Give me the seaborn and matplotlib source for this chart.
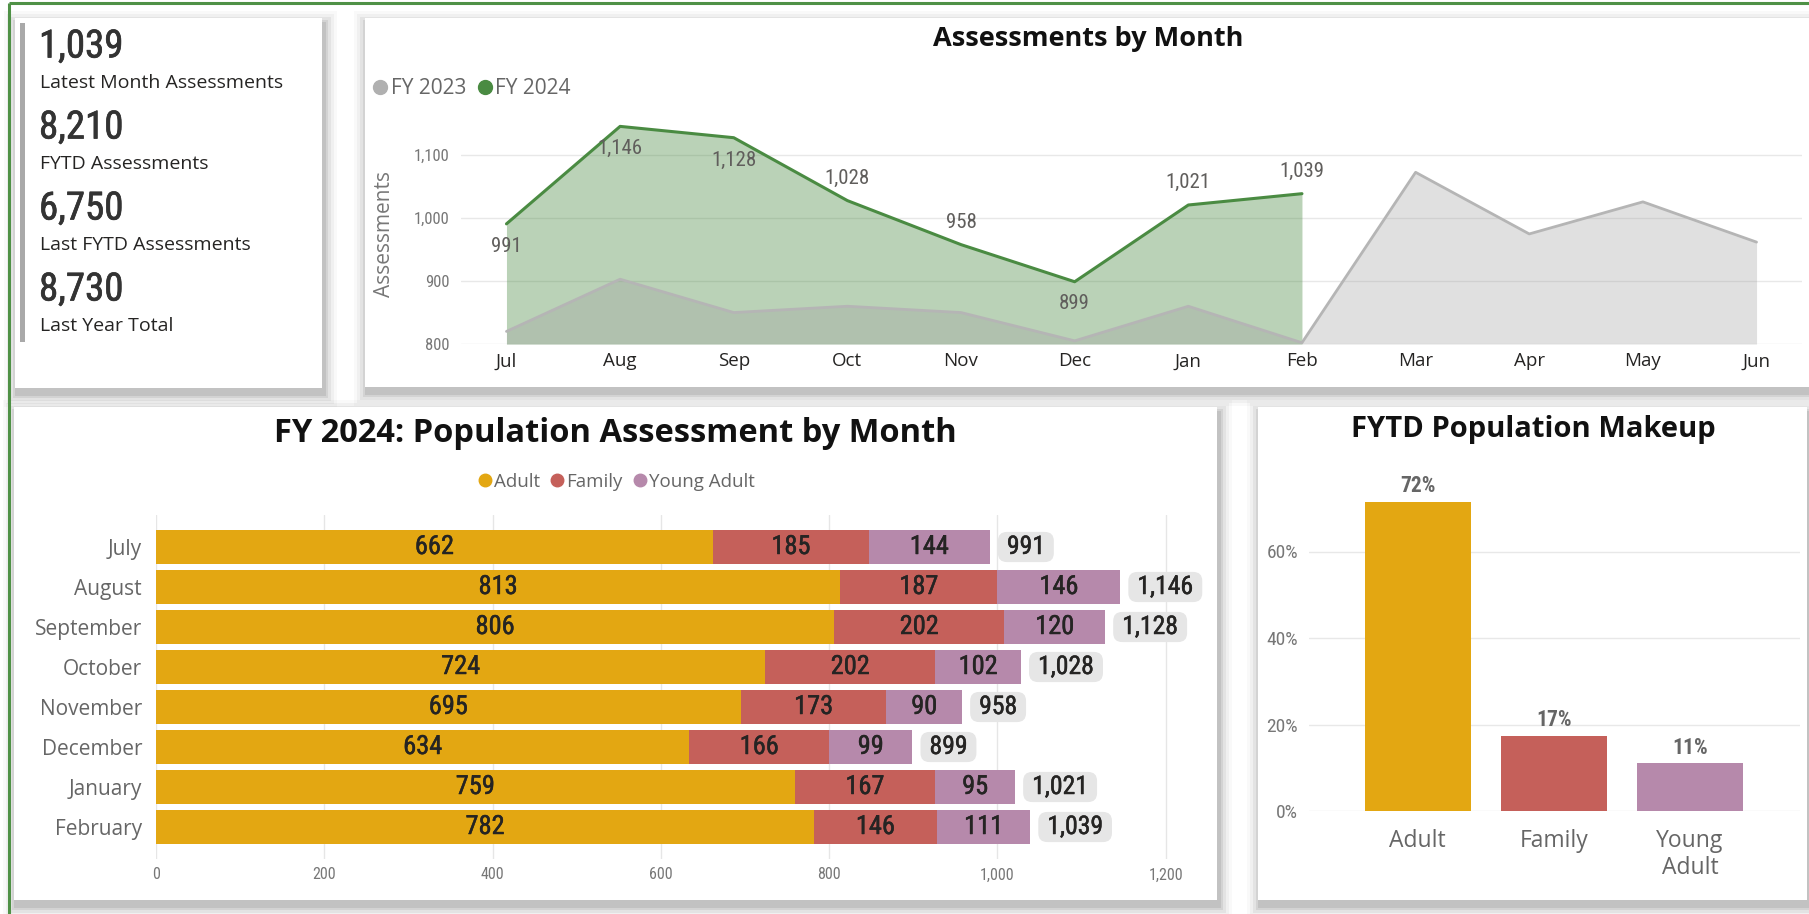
import matplotlib
matplotlib.use("Agg")
import matplotlib.pyplot as plt
import matplotlib.patheffects as pe
import seaborn as sns
import numpy as np
import pandas as pd
from matplotlib.patches import Rectangle
from matplotlib.lines import Line2D
from matplotlib import font_manager as fm

# ---------------- data ----------------
months_short = ["Jul", "Aug", "Sep", "Oct", "Nov", "Dec", "Jan", "Feb", "Mar", "Apr", "May", "Jun"]
fy2023 = [820, 903, 850, 860, 850, 805, 860, 802, 1073, 975, 1026, 962]
fy2024 = [991, 1146, 1128, 1028, 958, 899, 1021, 1039]
fy2024_label_side = ["below", "below", "below", "above", "above", "below", "above", "above"]

months_long = ["July", "August", "September", "October", "November", "December", "January", "February"]
adult = [662, 813, 806, 724, 695, 634, 759, 782]
family = [185, 187, 202, 202, 173, 166, 167, 146]
young_adult = [144, 146, 120, 102, 90, 99, 95, 111]

populations = ["Adult", "Family", "Young Adult"]
makeup_ticklabels = ["Adult", "Family", "Young\nAdult"]

kpi_values = ["1,039", "8,210", "6,750", "8,730"]
kpi_labels = ["Latest Month Assessments", "FYTD Assessments", "Last FYTD Assessments", "Last Year Total"]

# ---------------- style ----------------
sns.set_theme(style="white")
installed = {f.name for f in fm.fontManager.ttflist}
TXT = "Open Sans" if "Open Sans" in installed else "DejaVu Sans"
NUM = "Roboto Condensed" if "Roboto Condensed" in installed else ("Roboto" if "Roboto" in installed else "DejaVu Sans")
plt.rcParams["font.family"] = [TXT, "DejaVu Sans"]

GOLD, RED, PURPLE = "#E3A712", "#C5605A", "#B689AB"
GREEN, GREY = "#4A8B42", "#B5B5B5"

W, H = 1809, 914
fig = plt.figure(figsize=(W / 100, H / 100), dpi=100)
fig.patch.set_facecolor("white")

bg = fig.add_axes([0, 0, 1, 1], zorder=-10)
bg.set_xlim(0, W)
bg.set_ylim(H, 0)
bg.axis("off")


def rect(l, t, r, b):
    return [l / W, 1 - b / H, (r - l) / W, (b - t) / H]


def card(x0, y0, x1, y1):
    for k, a in [(13, 0.025), (10, 0.035), (7, 0.05), (4, 0.065), (2, 0.08)]:
        bg.add_patch(Rectangle((x0 - k + 2, y0 - k + 6), (x1 - x0) + 2 * k, (y1 - y0) + 2 * k,
                               color="black", alpha=a, lw=0))
    bg.add_patch(Rectangle((x0, y0), x1 - x0, y1 - y0, color="white", lw=0))


card(15, 18, 322, 388)
card(365, 18, 1812, 387)
card(14, 407, 1217, 900)
card(1258, 407, 1807, 900)

# green frame
bg.plot([9, 9], [3, H + 5], color="#4F9146", lw=2.2, solid_capstyle="butt")
bg.plot([9, W + 5], [3, 3], color="#4F9146", lw=2.2, solid_capstyle="butt")


def semibold(color, w=0.4):
    return [pe.withStroke(linewidth=w, foreground=color)]


# ---------------- KPI card ----------------
bg.add_patch(Rectangle((20, 23), 5, 319, color="#A9A9A9", lw=0))
for i, (v, lab) in enumerate(zip(kpi_values, kpi_labels)):
    y0 = 47 + i * 81
    bg.text(39, y0, v, fontsize=28, color="#333333", family=NUM, ha="left", va="center",
            path_effects=semibold("#333333", 0.5))
    bg.text(40, y0 + 36, lab, fontsize=14, color="#252423", ha="left", va="center")

# ---------------- line chart ----------------
ax1 = fig.add_axes(rect(461, 105, 1802, 344))
x_all = np.arange(len(months_short))
x24 = x_all[:len(fy2024)]
ax1.fill_between(x24, fy2024, 800, color=GREEN, alpha=0.38, lw=0)
ax1.fill_between(x_all, fy2023, 800, color="#9A9A9A", alpha=0.30, lw=0)
sns.lineplot(x=x_all, y=fy2023, color=GREY, lw=2, ax=ax1)
sns.lineplot(x=x24, y=fy2024, color=GREEN, lw=2.2, ax=ax1)
for xi, v, side in zip(x24, fy2024, fy2024_label_side):
    off = -16 if side == "below" else 16
    ax1.annotate(f"{v:,}", (xi, v), xytext=(0, off), textcoords="offset points",
                 ha="center", va="center", fontsize=15, color="#605E5C", family=NUM)
ax1.set_xlim(-0.4, 11.4)
ax1.set_ylim(800, 1180)
ax1.set_yticks([800, 900, 1000, 1100])
ax1.set_yticklabels([f"{t:,}" for t in [800, 900, 1000, 1100]], fontsize=12, color="#777777", family=NUM)
ax1.set_xticks(x_all)
ax1.set_xticklabels(months_short, fontsize=13.5, color="#252423")
ax1.grid(axis="y", color="#E8E8E8", lw=1)
ax1.set_axisbelow(True)
for s in ax1.spines.values():
    s.set_visible(False)
ax1.tick_params(length=0)
ax1.tick_params(axis="y", pad=8)
ax1.tick_params(axis="x", pad=6)
ax1.set_xlabel("")
ax1.set_ylabel("")
ax1.patch.set_alpha(0)
bg.text(384, 234, "Assessments", rotation=90, fontsize=15, color="#777777", ha="center", va="center")
bg.text(1088, 39, "Assessments by Month", fontsize=19.5, weight="bold", color="#111111", ha="center", va="center")
h1 = [Line2D([], [], marker="o", ls="", color="#B0B0B0", markersize=10),
      Line2D([], [], marker="o", ls="", color=GREEN, markersize=10)]
fig.legend(h1, ["FY 2023", "FY 2024"], loc="center left", bbox_to_anchor=(370 / W, 1 - 89 / H),
           ncol=2, frameon=False, handletextpad=0.0, columnspacing=0.4, handlelength=1.0,
           fontsize=15, labelcolor="#666666", borderaxespad=0, borderpad=0)

# ---------------- stacked bar chart ----------------
ax2 = fig.add_axes(rect(156, 515, 1191, 859))
df = pd.DataFrame({"month": months_long, "Adult": adult, "Family": family, "Young Adult": young_adult})
df["lvl1"] = df["Adult"]
df["lvl2"] = df["Adult"] + df["Family"]
df["total"] = df["lvl2"] + df["Young Adult"]
sns.barplot(data=df, x="total", y="month", orient="h", color=PURPLE, saturation=1, width=0.87, lw=0, ax=ax2)
sns.barplot(data=df, x="lvl2", y="month", orient="h", color=RED, saturation=1, width=0.87, lw=0, ax=ax2)
sns.barplot(data=df, x="lvl1", y="month", orient="h", color=GOLD, saturation=1, width=0.87, lw=0, ax=ax2)
lab_kw = dict(ha="center", va="center", fontsize=19, color="#252423", family=NUM,
              path_effects=semibold("#252423", 0.35))
for i, r in df.iterrows():
    ax2.text(r["Adult"] / 2, i, f"{r['Adult']}", **lab_kw)
    ax2.text(r["Adult"] + r["Family"] / 2, i, f"{r['Family']}", **lab_kw)
    ax2.text(r["lvl2"] + r["Young Adult"] / 2, i, f"{r['Young Adult']}", **lab_kw)
    ax2.annotate(f" {r['total']:,} ", (r["total"], i), xytext=(8, 0), textcoords="offset points",
                 ha="left", va="center", fontsize=18.5, color="#252423", family=NUM,
                 path_effects=semibold("#252423", 0.35),
                 bbox=dict(boxstyle="round,pad=0.12,rounding_size=0.35", fc="#E6E6E6", ec="none"))
ax2.set_xlim(0, 1230)
ax2.set_ylim(7.8, -0.8)
ax2.set_xticks(range(0, 1201, 200))
ax2.set_xticklabels([f"{t:,}" for t in range(0, 1201, 200)], fontsize=11.5, color="#777777", family=NUM)
ax2.set_yticks(range(len(months_long)))
ax2.set_yticklabels(months_long, fontsize=15, color="#666666")
ax2.grid(axis="x", color="#E6E6E6", lw=1)
ax2.set_axisbelow(True)
for s in ax2.spines.values():
    s.set_visible(False)
ax2.tick_params(length=0)
ax2.tick_params(axis="y", pad=10)
ax2.tick_params(axis="x", pad=6)
ax2.set_xlabel("")
ax2.set_ylabel("")
ax2.patch.set_alpha(0)
bg.text(615, 434, "FY 2024: Population Assessment by Month", fontsize=23.5, weight="bold", color="#111111",
        ha="center", va="center")
h2 = [Line2D([], [], marker="o", ls="", color=c, markersize=9) for c in (GOLD, RED, PURPLE)]
fig.legend(h2, populations, loc="center", bbox_to_anchor=(615 / W, 1 - 482 / H),
           ncol=3, frameon=False, handletextpad=0.0, columnspacing=0.4, handlelength=1.0,
           fontsize=13.5, labelcolor="#666666", borderaxespad=0, borderpad=0)

# ---------------- makeup bar chart ----------------
ax3 = fig.add_axes(rect(1309, 465, 1800, 811))
sums = [sum(adult), sum(family), sum(young_adult)]
shares = [s / sum(sums) for s in sums]
mk = pd.DataFrame({"pop": makeup_ticklabels, "share": shares})
sns.barplot(data=mk, x="pop", y="share", hue="pop", palette=[GOLD, RED, PURPLE], saturation=1,
            width=0.78, lw=0, legend=False, ax=ax3)
for i, s in enumerate(shares):
    ax3.annotate(f"{round(s * 100)}%", (i, s), xytext=(0, 11), textcoords="offset points",
                 ha="center", va="center", fontsize=15.5, weight="bold", color="#666666", family=NUM)
ax3.set_xlim(-0.8, 2.81)
ax3.set_ylim(0, 0.8)
ax3.set_yticks([0, 0.2, 0.4, 0.6])
ax3.set_yticklabels(["0%", "20%", "40%", "60%"], fontsize=14, color="#777777", family=NUM)
ax3.set_xticks(range(3))
ax3.set_xticklabels(makeup_ticklabels, fontsize=16.5, color="#666666", linespacing=1.15)
ax3.grid(axis="y", color="#E8E8E8", lw=1)
ax3.set_axisbelow(True)
for s in ax3.spines.values():
    s.set_visible(False)
ax3.tick_params(length=0)
ax3.tick_params(axis="y", pad=8)
ax3.tick_params(axis="x", pad=13)
ax3.set_xlabel("")
ax3.set_ylabel("")
ax3.patch.set_alpha(0)
bg.text(1533, 429, "FYTD Population Makeup", fontsize=21, weight="bold", color="#111111", ha="center", va="center")

fig.savefig("out.png", dpi=100, facecolor="white")
